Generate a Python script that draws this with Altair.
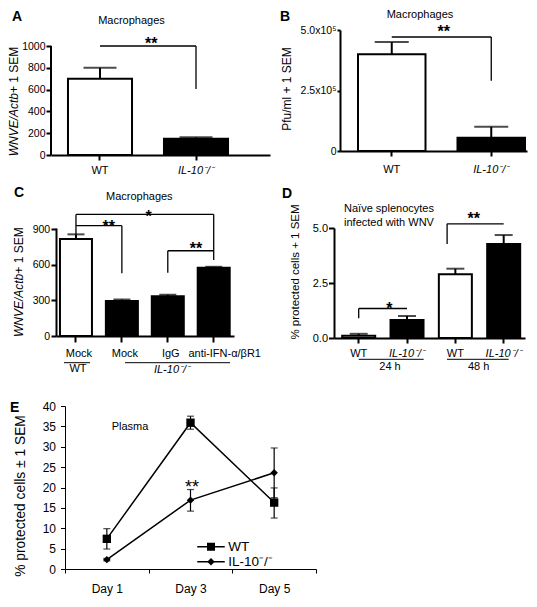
import altair as alt
import pandas as pd

FONT = "Liberation Sans"
IL = "IL-10⁻/⁻"

# ---------------- data ----------------
# Panel A
a_keys = ["WT", IL]
a_geno = ["WT", "IL"]
a_mean = [700, 150]
a_top = [800, 162]
a_ticks = [0, 200, 400, 600, 800, 1000]
a_brackets = [("WT", IL, 1000, 1000), (IL, IL, 1000, 605)]

# Panel B
b_keys = ["WT", IL]
b_geno = ["WT", "IL"]
b_mean = [400000, 55000]
b_top = [450000, 100000]
b_ticks = [0, 250000, 500000]
b_tick_labels = ["0", "2.5x10⁵", "5.0x10⁵"]
b_brackets = [("WT", IL, 471000, 471000), (IL, IL, 471000, 290000)]

# Panel C
c_keys = ["WT Mock", "IL Mock", "IL IgG", "IL anti"]
c_labels = ["Mock", "Mock", "IgG", "anti-IFN-α/βR1"]
c_geno = ["WT", "IL", "IL", "IL"]
c_mean = [815, 295, 335, 575]
c_top = [855, 307, 347, 582]
c_ticks = [0, 300, 600, 900]
c_brackets = [
    ("WT Mock", "IL Mock", 928, 928), ("IL Mock", "IL Mock", 928, 527),
    ("WT Mock", "IL anti", 1023, 1023), ("WT Mock", "WT Mock", 1023, 855),
    ("IL anti", "IL anti", 1023, 639),
    ("IL IgG", "IL anti", 717, 717), ("IL IgG", "IL IgG", 717, 532),
]

# Panel D
d_keys = ["WT 24", "IL 24", "WT 48", "IL 48"]
d_labels = ["WT", IL, "WT", IL]
d_geno = ["WT", "IL", "WT", "IL"]
d_mean = [0.1, 0.82, 2.9, 4.27]
d_top = [0.19, 1.0, 3.15, 4.68]
d_ticks = [0, 2.5, 5]
d_brackets = [("WT 24", "IL 24", 1.34, 1.34), ("WT 24", "WT 24", 1.34, 0.9)]
d_bracket2 = ("WT 48", "IL 48", 5.19, 4.27)

# Panel E
e_days = ["Day 1", "Day 3", "Day 5"]
e_series = ["WT", IL]
e_wt = [7.4, 35.9, 16.3]
e_wt_lo = [4.9, 34.3, 12.5]
e_wt_hi = [9.9, 37.5, 19.9]
e_il = [2.3, 16.9, 23.6]
e_il_lo = [2.0, 14.2, 17.5]
e_il_hi = [2.6, 19.5, 29.7]
e_ticks = [0, 5, 10, 15, 20, 25, 30, 35, 40]

# ---------------- helpers ----------------
one = pd.DataFrame({"n": [0]})
ITALIC_IL = {"condition": {"test": "indexof(datum.value, 'IL') == 0", "value": "italic"},
             "value": "normal"}


def txt(s, x, y, size=11, weight="normal", style="normal", align="center",
        baseline="middle", angle=0):
    return alt.Chart(one).mark_text(
        text=s, font=FONT, fontSize=size, fontWeight=weight, fontStyle=style,
        align=align, baseline=baseline, angle=angle, color="black"
    ).encode(x=alt.value(x), y=alt.value(y))


def seg(x1, x2, y1, y2, width=1.0, opacity=1.0):
    return alt.Chart(one).mark_rule(color="black", strokeWidth=width, opacity=opacity).encode(
        x=alt.value(x1), x2=alt.value(x2), y=alt.value(y1), y2=alt.value(y2))


def letter(s, x, y):
    return txt(s, x, y, size=14, weight="bold", align="left", baseline="top")


def split_title(italic, rest, x, yj, size=12):
    return [txt(italic, x, yj, size=size, style="italic", align="right", angle=270),
            txt("\u00a0\u2009" + rest, x, yj, size=size, align="left", angle=270)]


def label_expr(keys, labels):
    expr = f"'{labels[-1]}'"
    for k, l in reversed(list(zip(keys[:-1], labels[:-1]))):
        expr = f"datum.value == '{k}' ? '{l}' : " + expr
    return expr


def make_x(keys, pi, po, align, axis, rng=None):
    kw = dict(type="band", domain=keys, paddingInner=pi, paddingOuter=po, align=align)
    if rng is not None:
        kw["range"] = rng
    scale = alt.Scale(**kw)

    def xs(field, **k):
        return alt.X(f"{field}:N", scale=scale, axis=axis, title=None, **k)
    return xs


def make_y(ymax, axis, title=None):
    scale = alt.Scale(domain=[0, ymax], nice=False, zero=True)

    def ys(field):
        return alt.Y(f"{field}:Q", scale=scale, axis=axis, title=title)
    return ys


def bar_layers(keys, geno, mean, top, xs, ys, cap):
    df = pd.DataFrame({"key": keys, "geno": geno, "mean": mean, "top": top})
    bars = alt.Chart(df).mark_bar(stroke="black", strokeWidth=2).encode(
        x=xs("key"), y=ys("mean"),
        fill=alt.Fill("geno:N", scale=alt.Scale(domain=["WT", "IL"], range=["white", "black"]),
                      legend=None))
    err = alt.Chart(df).mark_rule(color="black", strokeWidth=2).encode(
        x=xs("key"), y=ys("mean"), y2=alt.Y2("top"))
    caps = alt.Chart(df).mark_tick(color="black", thickness=2, size=cap).encode(
        x=xs("key"), y=ys("top"))
    return [bars, err, caps]


def bracket_layer(rows, xs, ys, width=1.3):
    df = pd.DataFrame(rows, columns=["k1", "k2", "v1", "v2"])
    return alt.Chart(df).mark_rule(color="black", strokeWidth=width).encode(
        x=xs("k1"), x2=alt.X2("k2"), y=ys("v1"), y2=alt.Y2("v2"))


def x_axis(tick, pad, expr=None, italic=True, offset=None):
    kw = dict(domainWidth=2, tickWidth=2, tickSize=tick, labelPadding=pad, labelFontSize=11,
              labelAngle=0, title=None, labelOverlap=False)
    if expr:
        kw["labelExpr"] = expr
    if italic:
        kw["labelFontStyle"] = ITALIC_IL
    if offset is not None:
        kw["labelOffset"] = offset
    return alt.Axis(**kw)


# all three rows share one left origin (the y axis of panel A); panels C and E
# shift their plotting range to the right of it
# ---------------- Panel A ----------------
A_W, A_H = 219, 125
A_YMAX = 1000 * 125 / 109
xa = make_x(a_keys, 0.333, 0.307, 0.288, x_axis(5, 4.25))
ya = make_y(A_YMAX, alt.Axis(values=a_ticks, format="d", domain=False, tickSize=5, tickWidth=2,
                             labelPadding=1, labelFontSize=10.5, labelFlush=False,
                             labelOverlap=False, title=None))
a_axis_line = alt.Chart(pd.DataFrame({"lo": [0], "hi": [1000]})).mark_rule(
    color="black", strokeWidth=2).encode(x=alt.value(0), y=ya("lo"), y2=alt.Y2("hi"))
A = alt.layer(
    seg(-43, 478, -22, 151, opacity=0),
    *bar_layers(a_keys, a_geno, a_mean, a_top, xa, ya, 33),
    a_axis_line,
    bracket_layer(a_brackets, xa, ya),
    txt("**", 100.3, 14.3, size=16, weight="bold"),
    txt("Macrophages", 80.5, -9, size=11),
    letter("A", -39, -20),
    *split_title("WNVE/Actb", "+ 1 SEM", -37, 63),
).properties(width=A_W, height=A_H)

# ---------------- Panel B ----------------
B_W, B_H = 187, 121
xb = make_x(b_keys, 0.3216, 0.1005, 0.9, x_axis(5, 7.25))
yb = make_y(500000, alt.Axis(values=b_ticks, labelExpr=label_expr(b_ticks, b_tick_labels),
                             domainWidth=2, tickSize=3, tickWidth=2, labelPadding=1,
                             labelFontSize=10.5, labelFlush=False, labelOverlap=False,
                             titleX=-53.5, titleY=58.5, titleFontSize=12,
                             titleBaseline="middle", titleAngle=270),
            title="Pfu/ml + 1 SEM")
B = alt.layer(
    *bar_layers(b_keys, b_geno, b_mean, b_top, xb, yb, 34),
    bracket_layer(b_brackets, xb, yb),
    txt("**", 103.7, 1.6, size=16, weight="bold"),
    txt("Macrophages", 80, -15, size=11),
    letter("B", -60, -20.3),
).properties(width=B_W, height=B_H)

# ---------------- Panel C ----------------
CX = 5  # shift of C's y axis right of the common origin
C_W, C_H = 178, 108
C_YMAX = 900 * 108 / 107
c_offset = {"condition": {"test": "datum.value == 'IL anti'", "value": 11}, "value": 3}
xc = make_x(c_keys, 0.303, 0.09, 0.48,
            x_axis(6, 5.55, label_expr(c_keys, c_labels), italic=False, offset=c_offset),
            rng=[CX, CX + C_W])
yc = make_y(C_YMAX, alt.Axis(values=c_ticks, domainWidth=2, tickSize=5, tickWidth=2,
                             labelPadding=1.3, labelFontSize=10.5, labelFlush=False,
                             labelOverlap=False, title=None, offset=-CX))
C = alt.layer(
    seg(-43, 478, -47, 158, opacity=0),
    *bar_layers(c_keys, c_geno, c_mean, c_top, xc, yc, 17),
    bracket_layer(c_brackets, xc, yc),
    txt("**", CX + 52.7, -1, size=16, weight="bold"),
    txt("*", CX + 92.7, -11, size=16, weight="bold"),
    txt("**", CX + 140, 21.3, size=16, weight="bold"),
    txt("Macrophages", CX + 83.3, -31, size=11),
    letter("C", CX - 42, -42),
    *split_title("WNVE/Actb", "+ 1 SEM", CX - 37, 45.7),
    seg(CX + 8, CX + 34, 134.7, 134.7),
    txt("WT", CX + 22, 141.3, size=11),
    seg(CX + 69, CX + 174, 134.7, 134.7),
    txt(IL, CX + 116, 142, size=11, style="italic"),
).properties(width=CX + C_W, height=C_H)

# ---------------- Panel D ----------------
D_W, D_H = 191, 110
xd = make_x(d_keys, 0.317, 0.1345, 0.63, x_axis(5, 4.55, label_expr(d_keys, d_labels)))
yd = make_y(5, alt.Axis(values=d_ticks, format=".1f", domainWidth=2, tickSize=5.5, tickWidth=2,
                        labelPadding=1, labelFontSize=11, labelFlush=False, labelOverlap=False,
                        titleX=-39, titleY=43.5, titleFontSize=11.5, titleBaseline="middle",
                        titleAngle=270),
            title="% protected cells + 1 SEM")
k1, k2, v1, v2 = d_bracket2
d_br2 = pd.DataFrame({"k1": [k1], "k2": [k2], "v1": [v1], "v2": [v2]})
d_br2_h = alt.Chart(d_br2).mark_rule(color="black", strokeWidth=1.3).encode(
    x=xd("k1", bandPosition=0.25), x2=alt.X2("k2"), y=yd("v1"))
d_br2_v = alt.Chart(d_br2).mark_rule(color="black", strokeWidth=1.3).encode(
    x=xd("k1", bandPosition=0.25), y=yd("v1"), y2=alt.Y2("v2"))
D = alt.layer(
    *bar_layers(d_keys, d_geno, d_mean, d_top, xd, yd, 18),
    bracket_layer(d_brackets, xd, yd),
    d_br2_h, d_br2_v,
    txt("*", 55.3, 81.3, size=16, weight="bold"),
    txt("**", 139.7, -8.7, size=16, weight="bold"),
    txt("Naïve splenocytes", 55, -18.7, size=11),
    txt("infected with WNV", 55, -4.7, size=11),
    letter("D", -52, -41),
    seg(24.7, 89.7, 131.3, 131.3),
    seg(113, 174.7, 131.3, 131.3),
    txt("24 h", 56, 138.7, size=11),
    txt("48 h", 144.7, 138.7, size=11),
).properties(width=D_W, height=D_H)

# ---------------- Panel E ----------------
EX = 14  # shift of E's y axis right of the common origin
E_W, E_H = 251, 163
e_df = pd.DataFrame({
    "day": e_days * 2,
    "series": ["WT"] * 3 + [IL] * 3,
    "mean": e_wt + e_il,
    "lo": e_wt_lo + e_il_lo,
    "hi": e_wt_hi + e_il_hi,
})
ex_scale = alt.Scale(type="band", domain=e_days, paddingInner=0, paddingOuter=0,
                     range=[EX, EX + E_W])
ex_axis = alt.Axis(tickBand="extent", domainWidth=1, tickWidth=1, tickSize=4, labelPadding=10.8,
                   labelFontSize=12, labelAngle=0, title=None)
ey_axis = alt.Axis(values=e_ticks, domainWidth=1, tickWidth=1, tickSize=4.5, labelPadding=5,
                   labelFontSize=12, labelFlush=False, labelOverlap=False, offset=-EX,
                   titleX=-45, titleY=89.5, titleFontSize=13.8, titleBaseline="middle",
                   titleAngle=270)
ey_scale = alt.Scale(domain=[0, 40], nice=False)


def ex(field):
    return alt.X(f"{field}:N", scale=ex_scale, axis=ex_axis, title=None)


def ey(field):
    return alt.Y(f"{field}:Q", scale=ey_scale, axis=ey_axis, title="% protected cells ± 1 SEM")


e_base = alt.Chart(e_df)
e_lines = e_base.mark_line(color="black", strokeWidth=1.5).encode(
    x=ex("day"), y=ey("mean"), detail="series:N")
e_err = e_base.mark_rule(color="black", strokeWidth=1.2).encode(
    x=ex("day"), y=ey("lo"), y2=alt.Y2("hi"))
e_cap_lo = e_base.mark_tick(color="black", thickness=1.2, size=7).encode(x=ex("day"), y=ey("lo"))
e_cap_hi = e_base.mark_tick(color="black", thickness=1.2, size=7).encode(x=ex("day"), y=ey("hi"))
e_pts_wt = e_base.transform_filter(alt.datum.series == "WT").mark_point(
    shape="square", filled=True, size=70, color="black", opacity=1).encode(x=ex("day"), y=ey("mean"))
e_pts_il = e_base.transform_filter(alt.datum.series == IL).mark_point(
    shape="diamond", filled=True, size=55, color="black", opacity=1).encode(x=ex("day"), y=ey("mean"))

# legend: a filled-marker legend and a line legend drawn on top of each other
LEG = dict(title=None, orient="none", legendX=EX + 139.25, legendY=134, symbolSize=100,
           symbolOpacity=1, labelFontSize=13.5, labelFont=FONT, labelColor="black",
           labelOffset=10.5, rowPadding=0, padding=0)
SQUARE = "M-0.8,-0.8H0.8V0.8H-0.8Z"
DIAMOND = "M0,-0.75L0.75,0L0,0.75L-0.75,0Z"
DASH = "M-2.75,0H2.75"
leg_df = pd.DataFrame({"series": e_series, "series_line": e_series})
e_leg_marker = alt.Chart(leg_df).mark_point(
    filled=True, opacity=0, size=1, color="black").encode(
    x=alt.value(0), y=alt.value(0),
    shape=alt.Shape("series:N", scale=alt.Scale(domain=e_series, range=[SQUARE, DIAMOND]),
                    legend=alt.Legend(symbolFillColor="black", **LEG)))
e_leg_line = alt.Chart(leg_df).mark_point(
    filled=False, opacity=0, size=1, color="black", strokeWidth=1.5).encode(
    x=alt.value(0), y=alt.value(0),
    shape=alt.Shape("series_line:N", scale=alt.Scale(domain=e_series, range=[DASH, DASH]),
                    legend=alt.Legend(symbolStrokeColor="black", symbolStrokeWidth=1.5,
                                      labelOpacity=0, **LEG)))

E = alt.layer(
    seg(-43, 478, -20, 190, opacity=0),
    e_lines, e_err, e_cap_lo, e_cap_hi, e_pts_wt, e_pts_il, e_leg_line, e_leg_marker,
    txt("Plasma", EX + 65, 21, size=11),
    txt("**", EX + 127, 81.6, size=18),
    letter("E", EX - 55, -5),
).resolve_scale(shape="independent").resolve_legend(shape="independent").properties(
    width=EX + E_W, height=E_H)

row1 = alt.hconcat(A, B, spacing=70, bounds="flush")
row2 = alt.hconcat(C, D, spacing=100, bounds="flush")

chart = alt.concat(row1, row2, E, columns=1, spacing=0).properties(padding=0)
chart = chart.resolve_legend(shape="independent")
chart = chart.configure(font=FONT).configure_view(stroke=None).configure_axis(
    labelFont=FONT, titleFont=FONT, labelColor="black", titleColor="black",
    domainColor="black", tickColor="black", grid=False, titleFontWeight="normal")

chart.save("out.html", embed_options={"renderer": "svg", "actions": False})
